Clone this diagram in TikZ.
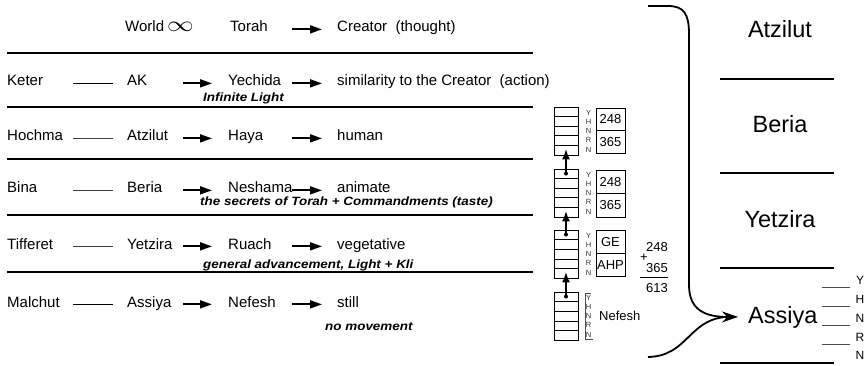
\documentclass[tikz,border=0pt]{standalone}
\usepackage{fontspec}
\setmainfont{Liberation Sans}
\newfontfamily\lblfont{Liberation Sans}[FakeStretch=1.12]
\usetikzlibrary{arrows.meta,calc}
\begin{document}
\begin{tikzpicture}[x=1pt,y=-1pt,
  txt/.style={font=\fontsize{15}{18}\selectfont, inner sep=0pt, anchor=base west},
  lbl/.style={font=\fontsize{12}{14}\lblfont\bfseries\itshape, inner sep=0pt, anchor=base west},
  big/.style={font=\fontsize{23.5}{28}\selectfont, inner sep=0pt, anchor=base},
  rule/.style={line width=1.2pt},
  thickrule/.style={line width=2pt},
  dashthick/.style={line width=1.5pt},
  dashthin/.style={line width=0.8pt, black!75},
  arr/.style={line width=1.8pt, -{Triangle[length=12pt,width=8pt]}},
  uparr/.style={line width=2.4pt, -{Latex[length=11pt,width=8pt]}},
  colbox/.style={draw, line width=0.9pt, minimum width=24pt, minimum height=48pt, inner sep=0pt},
  numbox/.style={draw, line width=0.9pt, minimum width=29pt, inner sep=0pt, font=\fontsize{13}{15}\selectfont},
  tinyl/.style={font=\fontsize{7.5}{8}\selectfont, inner sep=0pt, text=black!80},
  smalll/.style={font=\fontsize{12}{14}\selectfont, inner sep=0pt},
  numt/.style={font=\fontsize{13}{15}\selectfont, inner sep=0pt},
  bracket/.style={line width=1.8pt},
  hint/.style={line width=0.8pt, black!70}]
\useasboundingbox (0,0) rectangle (867,366);

% ---------- row 0
\node[txt] (world) at (125,32) {World};
\node[txt] (infy) at (167,32) {\scalebox{1.85}[1.5]{$\infty$}};
\node[txt] (torah) at (230,32) {Torah};
\node[txt] (creator) at (337,32) {Creator\ \ (thought)};
\draw[arr] ([xshift=-45pt]creator.mid west) -- ([xshift=-15pt]creator.mid west);
\draw[rule] (7,53) -- (533,53);

% ---------- row 1
\node[txt] (keter) at (7,86) {Keter};
\node[txt] (ak) at (127,86) {AK};
\node[txt] (yech) at (228,86) {Yechida};
\node[txt] (sim) at (337,86) {similarity to the Creator\ \ (action)};
\node[lbl] (infl) at (203,102) {Infinite Light};
\draw[dashthick] ([xshift=-54pt]ak.mid west) -- ([xshift=-14pt]ak.mid west);
\draw[arr] ([xshift=-45pt]yech.mid west) -- ([xshift=-16pt]yech.mid west);
\draw[arr] ([xshift=-45pt]sim.mid west) -- ([xshift=-15pt]sim.mid west);
\draw[rule] (7,107) -- (533,107);

% ---------- row 2
\node[txt] (hoch) at (7,141) {Hochma};
\node[txt] (atz) at (127,141) {Atzilut};
\node[txt] (haya) at (228,141) {Haya};
\node[txt] (human) at (337,141) {human};
\draw[dashthin] ([xshift=-54pt]atz.mid west) -- ([xshift=-14pt]atz.mid west);
\draw[arr] ([xshift=-45pt]haya.mid west) -- ([xshift=-16pt]haya.mid west);
\draw[arr] ([xshift=-45pt]human.mid west) -- ([xshift=-15pt]human.mid west);
\draw[rule] (7,159) -- (533,159);

% ---------- row 3
\node[txt] (bina) at (7,193) {Bina};
\node[txt] (beria) at (127,193) {Beria};
\node[txt] (nesh) at (228,193) {Neshama};
\node[txt] (anim) at (337,193) {animate};
\node[lbl] (secr) at (200,206) {the secrets of Torah + Commandments (taste)};
\draw[dashthin] ([xshift=-54pt]beria.mid west) -- ([xshift=-14pt]beria.mid west);
\draw[arr] ([xshift=-45pt]nesh.mid west) -- ([xshift=-16pt]nesh.mid west);
\draw[arr] ([xshift=-45pt]anim.mid west) -- ([xshift=-15pt]anim.mid west);
\draw[rule] (7,215) -- (533,215);

% ---------- row 4
\node[txt] (tif) at (7,249) {Tifferet};
\node[txt] (yetz) at (127,249) {Yetzira};
\node[txt] (ruach) at (228,249) {Ruach};
\node[txt] (veg) at (337,249) {vegetative};
\node[lbl] (gen) at (203,268) {general advancement, Light + Kli};
\draw[dashthin] ([xshift=-54pt]yetz.mid west) -- ([xshift=-14pt]yetz.mid west);
\draw[arr] ([xshift=-45pt]ruach.mid west) -- ([xshift=-16pt]ruach.mid west);
\draw[arr] ([xshift=-45pt]veg.mid west) -- ([xshift=-15pt]veg.mid west);
\draw[rule] (7,272) -- (533,272);

% ---------- row 5
\node[txt] (mal) at (7,307) {Malchut};
\node[txt] (assl) at (127,307) {Assiya};
\node[txt] (nef) at (228,307) {Nefesh};
\node[txt] (still) at (337,307) {still};
\node[lbl] (nomov) at (325,330) {no movement};
\draw[dashthick] ([xshift=-54pt]assl.mid west) -- ([xshift=-14pt]assl.mid west);
\draw[arr] ([xshift=-45pt]nef.mid west) -- ([xshift=-16pt]nef.mid west);
\draw[arr] ([xshift=-45pt]still.mid west) -- ([xshift=-15pt]still.mid west);

% ---------- column of stacked boxes
\foreach \nm/\yt in {ca/107,cb/169,cc/230,cd/292}{
  \node[colbox] (\nm) at (566,{\yt+24}) {};
  \foreach \i in {1,...,4}
    \draw[line width=0.6pt] (554,{\yt+\i*9.6}) -- (578,{\yt+\i*9.6});
  \foreach \l [count=\i] in {Y,H,N,R,N}
    \node[tinyl] (\nm-l\i) at (588.5,{\yt+5.5+(\i-1)*9.3}) {\l};
}
\draw[line width=0.5pt, black!70] (591,293) -- (585,293) -- (585,339) -- (593,339);

\foreach \lo/\hi in {ca/cb,cb/cc,cc/cd}{
  \fill ([yshift=-5pt]\hi.north) circle (2pt);
  \draw[uparr] ([yshift=-5pt]\hi.north) -- ([yshift=7pt]\lo.south);
}

% number boxes
\node[numbox, minimum height=22.5pt] (na1) at (610.5,119.25) {248};
\node[numbox, minimum height=22.5pt] (na2) at (610.5,141.75) {365};
\node[numbox, minimum height=23.5pt] (nb1) at (610.5,181.75) {248};
\node[numbox, minimum height=23.5pt] (nb2) at (610.5,205.25) {365};
\node[numbox, minimum height=23.5pt] (nc1) at (610.5,242) {GE};
\node[numbox, minimum height=23pt] (nc2) at (610.5,265.25) {AHP};
\node[numt, anchor=west] (nefc) at (599,316) {Nefesh};

\node[numt] (s248) at (657,247) {248};
\node[numt] (splus) at (644,257.5) {+};
\node[numt] (s365) at (657,268) {365};
\draw[line width=0.9pt] (640,277) -- (668,277);
\node[numt] (s613) at (657,288) {613};

% ---------- right column
\node[big] (ratz) at (780,38) {Atzilut};
\draw[thickrule] (720,79) -- (834,79);
\node[big] (rber) at (780,133) {Beria};
\draw[thickrule] (720,173) -- (834,173);
\node[big] (ryet) at (780,227) {Yetzira};
\draw[thickrule] (720,268) -- (834,268);
\node[big, anchor=base west] (rass) at (748,323) {Assiya};
\draw[thickrule] (720,363) -- (834,363);

\foreach \yy in {287,306,325,344}
  \draw[hint] (822,\yy) -- (850,\yy);
\foreach \l/\yy [count=\i] in {Y/280,H/299,N/318,R/337,N/355}
  \node[smalll] (rl\i) at (860,\yy) {\l};

% ---------- bracket arrows
\coordinate (topend) at (648,6);
\coordinate (botend) at (648,357);
\draw[bracket, -{Stealth[length=16pt,width=11pt]}] (topend) -- (668,6)
  .. controls (684,6) and (689,14) .. (689,34) -- (689,285)
  .. controls (689,310) and (705,317) .. ([xshift=-10pt]rass.west);
\draw[bracket] (botend) .. controls (688,356) and (688,320) .. ([xshift=-22pt]rass.west);
\end{tikzpicture}
\end{document}
